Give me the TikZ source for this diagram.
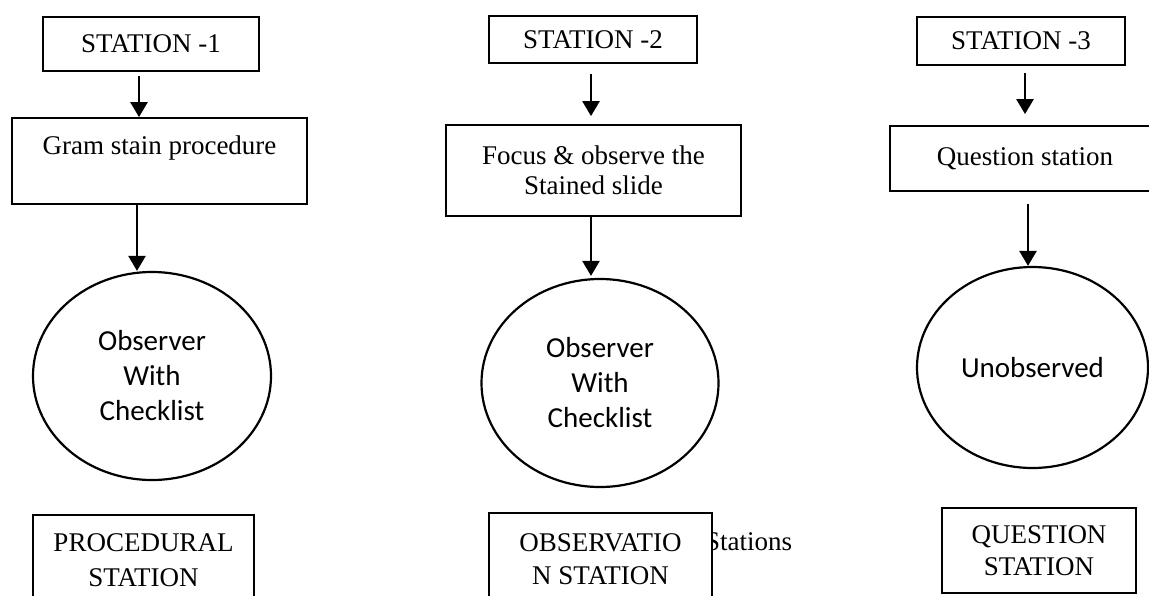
\documentclass[tikz,border=0pt]{standalone}
\usepackage{fontspec}
\setmainfont{Liberation Serif}
\newfontfamily\calibfont{Carlito}
\usetikzlibrary{arrows.meta,shapes.geometric}

\begin{document}
\begin{tikzpicture}[x=1pt,y=-1pt,
  box/.style={draw,line width=1.8pt,inner sep=0pt,align=center,font=\fontsize{27}{32}\selectfont},
  oval/.style={draw,ellipse,line width=2.2pt,inner sep=0pt,align=center,font=\calibfont\fontsize{29}{35}\selectfont},
  arr/.style={line width=2.5pt,-{Triangle[length=15pt,width=17pt]}}]

  \useasboundingbox (0,0) rectangle (1149,595);
  \clip (0,0) rectangle (1149,595);

  % station 1
  \node[box,minimum width=216pt,minimum height=54pt] (s1) at (151,44) {STATION -1};
  \node[box,minimum width=295pt,minimum height=86pt] (g1) at (159.5,161) {Gram stain procedure\\ ~};
  \node[oval,minimum width=238pt,minimum height=208pt] (e1) at (152,376) {Observer\\With\\Checklist};
  \node[box,minimum width=221pt,minimum height=90pt,font=\fontsize{27}{35}\selectfont] (p1) at (143.5,560) {PROCEDURAL\\STATION};

  % station 2
  \node[box,minimum width=208pt,minimum height=47pt] (s2) at (593,39.5) {STATION -2};
  \node[box,minimum width=295pt,minimum height=91pt,font=\fontsize{27}{30}\selectfont] (f2) at (593.5,170.5) {Focus \& observe the\\Stained slide};
  \node[anchor=west,inner sep=0pt,font=\fontsize{27}{32}\selectfont] (st) at (705,542) {Stations};
  \node[oval,minimum width=237pt,minimum height=208pt] (e2) at (600,383) {Observer\\With\\Checklist};
  \node[box,fill=white,minimum width=223pt,minimum height=92pt,font=\fontsize{27}{33}\selectfont] (o2) at (600.5,559) {OBSERVATIO\\N STATION};

  % station 3
  \node[box,minimum width=208pt,minimum height=48pt] (s3) at (1021,41) {STATION -3};
  \node[box,minimum width=270pt,minimum height=65pt] (q3) at (1025,158.5) {Question station};
  \node[oval,minimum width=231pt,minimum height=201pt] (e3) at (1032.5,367.5) {Unobserved};
  \node[box,minimum width=194pt,minimum height=85pt] (qs) at (1039,550.5) {QUESTION\\STATION};

  % arrows
  \draw[arr,shorten <=4pt] ([xshift=-12pt]s1.south) -- ([xshift=-12pt]s1.south |- g1.north);
  \draw[arr] ([xshift=-22.5pt]g1.south) -- ([xshift=-22.5pt]g1.south |- e1.north);
  \draw[arr,shorten <=10pt,shorten >=8pt] ([xshift=-2pt]s2.south) -- ([xshift=-2pt]s2.south |- f2.north);
  \draw[arr,shorten >=2pt] ([xshift=-2.5pt]f2.south) -- ([xshift=-2.5pt]f2.south |- e2.north);
  \draw[arr,shorten <=7pt,shorten >=11pt] ([xshift=4pt]s3.south) -- ([xshift=4pt]s3.south |- q3.north);
  \draw[arr,shorten <=12pt] ([xshift=3pt]q3.south) -- ([xshift=3pt]q3.south |- e3.north);

\end{tikzpicture}
\end{document}
